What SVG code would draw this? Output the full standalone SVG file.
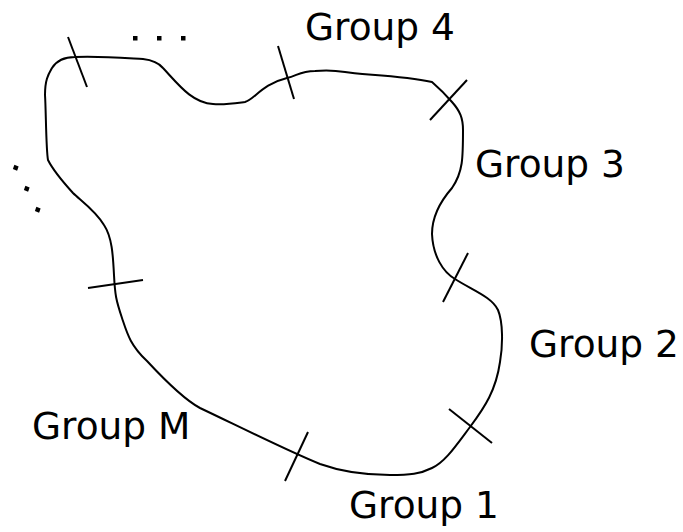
<svg xmlns="http://www.w3.org/2000/svg" width="683" height="532" viewBox="0 0 683 532">
  <style>
    .outline { fill: none; stroke: #000; stroke-width: 2; stroke-linejoin: round; }
    .tick { stroke: #000; stroke-width: 2; fill: none; }
    .label { font-family: "DejaVu Sans", "Liberation Sans", sans-serif; font-size: 37.5px; fill: #000; }
    .dot { fill: #000; }
  </style>
  <rect width="683" height="532" fill="#fff"/>

  <!-- closed boundary -->
  <g id="boundary">
    <path class="outline" d="M 75,57
      C 100,56 125,58 143,59
      C 152,60 158,62 163,68
      C 178,84 192,103 213,104
      C 225,105 237,103 245,102
      C 255,99 262,84 287,78
      C 297,76 300,71 315,71
      C 325,70 333,70 345,72
      C 360,75 400,75 432,82
      C 440,89 446,95 452,102
      C 460,111 463,118 463,130
      C 463,158 463,172 452,188
      C 438,204 432,218 432,234
      C 433,256 443,272 455,279
      C 472,290 492,297 498,310
      C 503,322 503,345 500,362
      C 496,390 485,407 470,427
      C 455,447 445,462 432,468
      C 420,474 410,475 390,475
      C 370,475 345,473 320,464
      C 290,452 240,427 200,408
      C 185,400 160,375 147,361
      C 130,345 127,333 122,318
      C 116,300 115,295 114,275
      C 113,255 112,237 104,225
      C 95,210 80,200 73,193
      C 63,182 52,168 48,160
      C 46,150 46,110 45,95
      C 45,80 48,75 52,68
      C 57,60 65,57 75,57 Z"/>
  </g>

  <!-- boundary ticks between groups -->
  <g id="ticks">
    <line class="tick" x1="68" y1="37" x2="87" y2="87"/>
    <line class="tick" x1="278" y1="46" x2="294" y2="99"/>
    <line class="tick" x1="467" y1="80" x2="430" y2="120"/>
    <line class="tick" x1="468" y1="253" x2="443" y2="302"/>
    <line class="tick" x1="449" y1="409" x2="492" y2="443"/>
    <line class="tick" x1="308" y1="432" x2="285" y2="481"/>
    <line class="tick" x1="88" y1="288" x2="143" y2="280"/>
  </g>

  <!-- ellipses -->
  <g id="dots-top">
    <rect class="dot" x="133" y="36" width="4.5" height="4.5"/>
    <rect class="dot" x="157" y="36" width="4.5" height="4.5"/>
    <rect class="dot" x="181" y="36" width="4.5" height="4.5"/>
  </g>
  <g id="dots-left">
    <rect class="dot" x="13.5" y="165.5" width="4.5" height="4.5" transform="rotate(20 15.75 167.75)"/>
    <rect class="dot" x="24.5" y="186.5" width="4.5" height="4.5" transform="rotate(20 26.75 188.75)"/>
    <rect class="dot" x="35.5" y="207.5" width="4.5" height="4.5" transform="rotate(20 37.75 209.75)"/>
  </g>

  <!-- group labels -->
  <g id="label-group4"><text class="label" x="305" y="40">Group 4</text></g>
  <g id="label-group3"><text class="label" x="475" y="177">Group 3</text></g>
  <g id="label-group2"><text class="label" x="529" y="357">Group 2</text></g>
  <g id="label-groupM"><text class="label" x="32" y="439">Group M</text></g>
  <g id="label-group1"><text class="label" x="349" y="518">Group 1</text></g>
</svg>
